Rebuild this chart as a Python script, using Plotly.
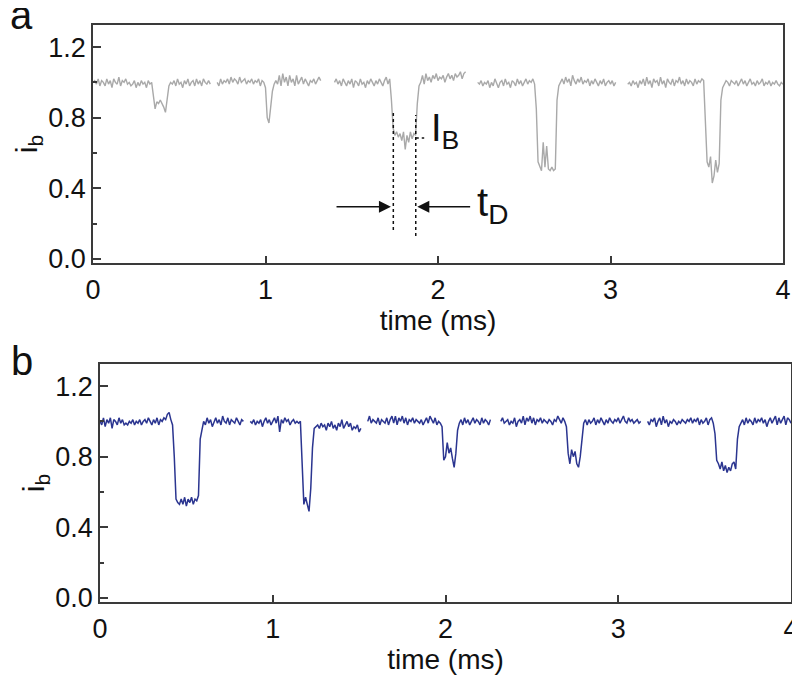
import numpy as np
import plotly.graph_objects as go

DT = 0.01  # sampling interval (ms)

# ---------------- panel a (gray trace) ----------------
a_starts = [0.00, 0.72, 1.40, 2.23, 3.10]
a_seg1 = [1.00,1.01,0.99,1.02,0.98,1.01,1.00,0.98,1.02,0.99,1.01,0.97,1.02,1.00,0.99,1.03,0.98,1.01,1.00,1.02,
          0.99,1.00,0.98,0.99,1.01,0.97,1.00,0.98,1.01,0.99,1.00,0.97,1.01,0.99,1.00,
          0.92,0.85,0.89,0.88,0.90,0.88,0.86,0.83,0.90,0.98,1.00,
          0.99,1.01,0.98,1.02,0.99,1.00,0.97,1.01,0.99,1.02,0.98,1.00,1.01,0.98,1.02,0.99,1.01,0.98,1.02,1.00,0.99,1.01,0.99]
a_seg2 = [1.00,0.98,1.02,0.99,1.01,1.00,1.02,0.99,1.03,1.00,1.02,1.01,0.99,1.03,1.00,1.01,1.02,0.99,1.01,1.00,
          1.02,0.99,1.01,1.00,1.02,0.98,1.01,1.00,
          0.97,0.80,0.77,0.86,0.95,0.99,
          1.01,0.99,1.04,0.98,1.05,1.00,1.03,0.98,1.04,1.00,1.02,0.98,1.04,0.99,1.01,1.03,0.99,1.02,1.00,0.98,
          1.01,1.00,1.02,0.99,1.01,1.03,1.01]
a_seg3 = [1.00,1.02,0.99,1.01,0.98,1.02,1.00,0.98,1.01,0.99,1.02,0.97,1.01,1.00,0.98,1.02,0.99,1.00,0.97,1.01,
          0.99,1.02,1.00,0.98,1.01,0.99,1.02,1.00,0.98,1.01,1.03,0.99,1.02,
          0.90,0.74,0.70,0.72,0.69,0.71,0.67,0.72,0.62,0.70,0.66,0.72,0.68,0.71,0.70,0.88,0.98,
          1.00,1.04,0.99,1.05,1.01,1.03,1.00,1.04,1.02,1.05,1.01,1.03,1.02,1.04,1.00,1.03,1.05,1.02,1.04,1.01,
          1.05,1.03,1.04,1.06,1.02,1.05,1.06]
a_seg4 = [1.00,0.99,1.01,0.98,1.00,0.99,1.01,0.97,1.00,0.98,1.02,0.99,0.97,1.00,1.01,0.98,1.02,0.99,1.00,0.97,
          1.01,1.00,0.98,1.02,0.99,1.01,0.98,1.00,1.02,0.99,1.01,1.00,1.02,0.99,
          0.85,0.55,0.52,0.50,0.66,0.52,0.64,0.51,0.50,0.52,0.50,0.51,0.90,0.98,
          1.00,1.02,0.99,1.03,1.00,1.02,0.98,1.04,1.01,0.99,1.02,1.00,1.03,0.99,1.01,1.00,1.02,0.98,1.01,0.99,
          1.02,1.00,0.98,1.01,0.99,1.02,0.98,1.00,1.01,0.99,1.01,0.98,1.00]
a_seg5 = [0.99,1.00,0.98,1.01,0.99,1.00,0.97,1.01,0.99,1.02,0.98,1.03,0.99,1.01,0.97,1.02,1.00,1.01,0.98,1.03,
          0.99,1.01,0.97,1.02,1.00,0.99,1.02,0.98,1.01,1.00,1.03,0.99,1.01,0.98,1.02,0.99,1.01,1.00,0.98,1.02,
          0.99,1.01,1.00,1.02,1.01,
          0.80,0.55,0.52,0.58,0.43,0.47,0.56,0.49,0.54,0.90,0.97,
          0.99,1.01,1.00,0.98,1.01,1.00,0.99,1.01,0.98,1.00,1.02,0.99,1.01,0.98,1.00,1.02,0.99,1.00,0.98,1.01,
          0.99,1.00,1.02,0.98,1.00,0.99,1.01,0.98,1.00,0.99,1.01,0.99,0.98,1.00,0.99]
a_segments = [a_seg1, a_seg2, a_seg3, a_seg4, a_seg5]

# ---------------- panel b (blue trace) ----------------
b_starts = [0.00, 0.87, 1.55, 2.32, 3.17]
b_seg1 = [1.00,0.98,1.02,0.97,1.01,0.99,1.02,0.96,1.01,1.00,0.98,1.02,0.99,1.01,0.98,0.99,0.98,1.00,0.99,1.01,
          0.98,1.00,0.99,1.01,0.98,1.00,1.01,0.99,1.02,1.00,0.98,1.01,0.99,1.02,0.98,1.01,1.00,1.02,1.01,1.04,
          1.05,1.01,0.98,0.80,0.56,0.54,0.53,0.56,0.53,0.57,0.52,0.56,0.54,0.57,0.53,0.56,0.55,0.58,0.90,0.95,
          1.00,0.98,1.02,0.99,1.01,0.97,1.00,1.02,0.99,1.01,0.98,1.03,1.00,0.99,1.02,0.98,1.01,1.00,0.99,1.02,
          1.00,0.98,1.01,1.00]
b_seg2 = [1.00,0.99,1.01,0.98,1.00,0.99,1.01,0.97,1.00,1.02,0.99,1.01,0.98,1.00,1.02,0.99,1.03,0.94,1.01,0.99,
          1.02,1.00,1.01,0.98,1.00,1.01,0.99,1.00,0.99,1.00,
          0.70,0.53,0.57,0.52,0.49,0.62,0.85,0.96,
          0.97,0.98,0.96,0.99,0.97,0.98,0.95,0.99,0.97,1.00,0.96,0.98,0.95,0.99,0.97,1.01,0.96,0.98,1.00,0.97,
          0.99,0.95,0.97,0.96,0.98,0.94,0.96]
b_seg3 = [1.00,1.03,0.99,1.01,1.00,0.99,1.02,0.98,1.01,1.00,0.99,1.02,0.98,1.01,1.03,0.99,1.03,0.98,1.02,1.00,
          1.03,0.99,1.02,0.98,1.01,1.00,1.02,0.99,1.01,1.00,0.99,1.01,0.98,1.00,1.02,0.99,1.03,1.01,0.99,1.02,
          0.98,1.00,0.99,0.97,
          0.78,0.80,0.88,0.82,0.85,0.79,0.74,0.82,0.95,
          0.99,1.01,0.98,1.02,0.99,1.01,0.98,1.00,1.02,0.99,1.01,1.00,0.98,1.02,0.99,1.01,1.00,0.98,1.01]
b_seg4 = [1.00,1.02,0.99,1.00,1.01,0.98,1.00,0.99,1.02,0.97,1.00,1.01,0.99,1.03,0.98,1.02,1.00,1.03,0.99,1.02,
          0.98,1.01,1.00,1.02,0.99,1.01,1.00,0.99,1.01,1.00,0.98,1.01,1.00,1.03,1.01,0.99,1.02,1.00,0.97,
          0.82,0.76,0.84,0.80,0.83,0.76,0.74,0.80,0.92,
          0.99,1.01,0.98,1.01,0.99,1.00,1.02,0.98,1.01,0.99,1.02,1.00,0.98,1.01,0.99,1.02,1.00,0.99,1.01,1.00,
          1.02,0.99,1.01,1.03,1.00,0.99,1.02,1.00,1.01,0.99,1.00,1.01,0.99,1.00]
b_seg5 = [1.00,0.98,1.01,1.00,1.02,0.97,1.00,1.02,0.98,1.03,0.99,1.01,0.97,1.00,0.99,1.01,1.00,0.98,1.00,0.99,
          1.01,1.00,0.99,1.01,1.00,1.02,0.99,1.01,1.00,1.02,0.98,1.01,0.99,1.00,1.02,0.98,1.01,1.02,0.99,
          0.93,0.78,0.76,0.73,0.77,0.72,0.75,0.71,0.74,0.72,0.76,0.77,0.73,0.90,0.97,
          0.99,1.01,0.98,1.02,0.99,1.01,1.00,0.98,1.02,0.99,1.01,1.00,1.02,0.99,1.01,0.97,1.00,1.02,0.99,1.01,
          1.03,0.98,1.02,0.99,1.01,1.03,0.98,1.02,1.01,0.99]
b_segments = [b_seg1, b_seg2, b_seg3, b_seg4, b_seg5]

# annotation anchor values (data units)
tD_left, tD_right = 1.741, 1.871
IB_level = 0.685
arrow_y = 0.296

x_ticks = [0, 1, 2, 3, 4]
y_ticks = [0.0, 0.4, 0.8, 1.2]
y_ticktext = ["0.0", "0.4", "0.8", "1.2"]


def join_segments(starts, segments):
    xs, ys = [], []
    for s, seg in zip(starts, segments):
        t = s + DT * np.arange(len(seg))
        xs.extend(t.tolist()); ys.extend(seg)
        xs.append(None); ys.append(None)
    return xs, ys


FONT = "Liberation Sans, Arial, sans-serif"
AX = "#3a3a3a"
W, H = 792, 673  # page body has an 8px margin inside the 800x681 window

xa, ya = join_segments(a_starts, a_segments)
xb, yb = join_segments(b_starts, b_segments)

fig = go.Figure()
fig.add_trace(go.Scatter(x=xa, y=ya, mode="lines", line=dict(color="#a9a9a9", width=1.4),
                         connectgaps=False, xaxis="x", yaxis="y", showlegend=False))
fig.add_trace(go.Scatter(x=xb, y=yb, mode="lines", line=dict(color="#2b3590", width=1.5),
                         connectgaps=False, xaxis="x2", yaxis="y2", showlegend=False))


def xaxis(domain, anchor):
    return dict(domain=domain, anchor=anchor, range=[0, 4], tickvals=x_ticks, automargin=False,
                ticks="inside", ticklen=7, tickwidth=1.5, tickcolor=AX,
                showline=True, linecolor=AX, linewidth=1.5, mirror=True,
                showgrid=False, zeroline=False, ticklabelstandoff=2,
                tickfont=dict(family=FONT, size=27, color="#111"),
                title=dict(text="time (ms)", font=dict(family=FONT, size=28, color="#111"), standoff=0))


def yaxis(domain, anchor):
    return dict(domain=domain, anchor=anchor, range=[-0.023, 1.325], tickvals=y_ticks, ticktext=y_ticktext,
                automargin=False,
                ticks="inside", ticklen=8, tickwidth=1.5, tickcolor=AX,
                minor=dict(tickvals=[0.2, 0.6, 1.0], ticks="inside", ticklen=4, tickwidth=1.5, tickcolor=AX),
                showline=True, linecolor=AX, linewidth=1.5, mirror=True,
                showgrid=False, zeroline=False,
                tickfont=dict(family=FONT, size=27, color="#111"),
                title=dict(text="i<sub>b</sub>", font=dict(family=FONT, size=30, color="#111"), standoff=2))


fig.update_layout(
    width=W, height=H, margin=dict(l=0, r=0, t=0, b=0),
    paper_bgcolor="white", plot_bgcolor="white",
    xaxis=xaxis([85 / W, 775 / W], "y"),
    yaxis=yaxis([1 - 255 / H, 1 - 17 / H], "x"),
    xaxis2=xaxis([92 / W, 783 / W], "y2"),
    yaxis2=yaxis([1 - 594 / H, 1 - 356 / H], "x2"),
)

# dotted guide lines
dot = dict(color="#111", width=1.5, dash="dot")
fig.add_shape(type="line", xref="x", yref="y", x0=tD_left, x1=tD_left, y0=0.164, y1=0.826, line=dot)
fig.add_shape(type="line", xref="x", yref="y", x0=tD_right, x1=tD_right, y0=0.13, y1=0.815, line=dot)
fig.add_shape(type="line", xref="x", yref="y", x0=tD_right, x1=1.92, y0=IB_level, y1=IB_level,
              line=dict(color="#111", width=1.5, dash="3px,3px"))

# arrows
fig.add_annotation(x=1.727, y=arrow_y, ax=1.403, ay=arrow_y, xref="x", yref="y", axref="x", ayref="y",
                   text="", showarrow=True, arrowhead=2, arrowsize=1.6, arrowwidth=1.5, arrowcolor="#111")
fig.add_annotation(x=1.880, y=arrow_y, ax=2.195, ay=arrow_y, xref="x", yref="y", axref="x", ayref="y",
                   text="", showarrow=True, arrowhead=2, arrowsize=1.6, arrowwidth=1.5, arrowcolor="#111")

# labels
fig.add_annotation(x=1.945, y=0.724, xref="x", yref="y", xanchor="left", yanchor="middle",
                   text="I<sub>B</sub>", showarrow=False, font=dict(family=FONT, size=38, color="#111"))
fig.add_annotation(x=2.214, y=0.306, xref="x", yref="y", xanchor="left", yanchor="middle",
                   text="t<sub>D</sub>", showarrow=False, font=dict(family=FONT, size=40, color="#111"))

fig.add_annotation(x=0, y=1 - 7 / H, xref="paper", yref="paper", xanchor="left", yanchor="middle",
                   text="a", showarrow=False, font=dict(family=FONT, size=40, color="#111"))
fig.add_annotation(x=1 / W, y=1 - 353 / H, xref="paper", yref="paper", xanchor="left", yanchor="middle",
                   text="b", showarrow=False, font=dict(family=FONT, size=40, color="#111"))

fig.write_html("out.html")
